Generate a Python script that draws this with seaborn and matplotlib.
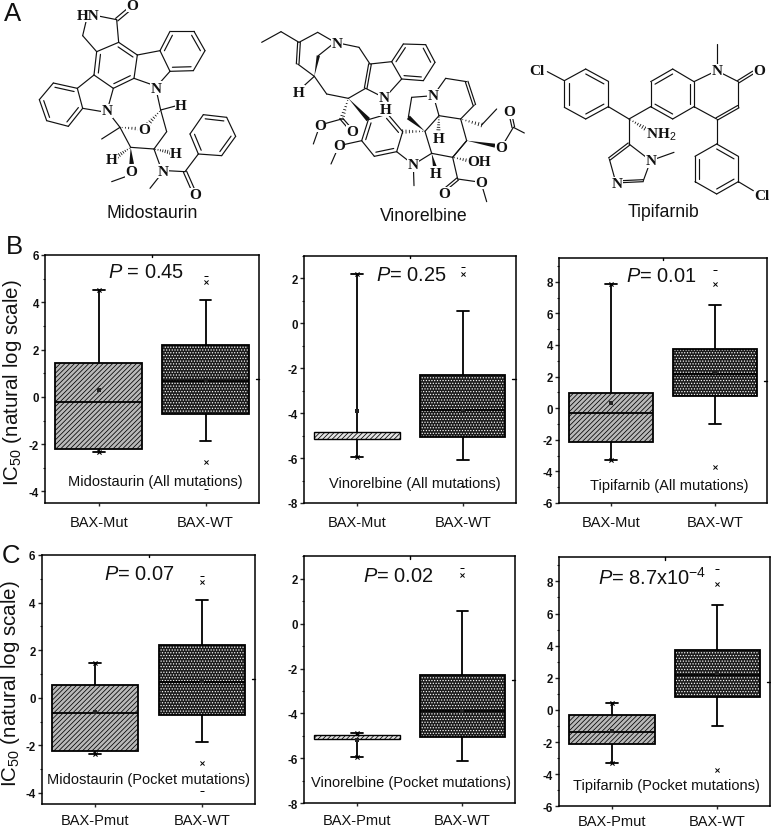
import numpy as np
import pandas as pd
import matplotlib
matplotlib.use("Agg")
import matplotlib.pyplot as plt
from matplotlib.ticker import MultipleLocator
import seaborn as sns

# Box data: whisker low, q1, median, q3, whisker high
groups_b = ["BAX-Mut", "BAX-WT"]
groups_c = ["BAX-Pmut", "BAX-WT"]

mido_mut = [-2.35, -2.2, -0.23, 1.45, 4.5]
mido_pmut = [-2.35, -2.22, -0.65, 0.52, 1.45]
mido_wt = [-1.85, -0.72, 0.68, 2.2, 4.1]
vino_mut = [-5.95, -5.15, -5.0, -4.85, 2.2]
vino_pmut = [-5.95, -5.15, -5.05, -4.95, -4.85]
vino_wt = [-6.1, -5.05, -3.87, -2.3, 0.55]
tipi_mut = [-3.3, -2.15, -0.33, 0.93, 7.85]
tipi_pmut = [-3.3, -2.15, -1.4, -0.33, 0.4]
tipi_wt = [-1.0, 0.78, 2.15, 3.75, 6.55]

# means, x outliers and dash outliers per group
mido_mut_mean, mido_pmut_mean, mido_wt_mean = 0.3, -0.6, 0.7
vino_mut_mean, vino_pmut_mean, vino_wt_mean = -3.9, -5.2, -3.9
tipi_mut_mean, tipi_pmut_mean, tipi_wt_mean = 0.3, -1.3, 2.3

mido_wt_x = [4.85, -2.75]
mido_wt_dash = [5.1, -3.9]
vino_wt_x = [2.18]
vino_wt_dash = [2.5, -7.25]
tipi_wt_x = [7.85, -3.72]
tipi_wt_dash = [8.75]

p_labels = [" = 0.45", "= 0.25", "= 0.01", "= 0.07", "= 0.02", "= 8.7x10$^{-4}$"]
inset_labels = ["Midostaurin (All mutations)", "Vinorelbine (All mutations)", "Tipifarnib (All mutations)",
                "Midostaurin (Pocket mutations)", "Vinorelbine (Pocket mutations)", "Tipifarnib (Pocket mutations)"]

W, H = 771, 828

sns.set_theme(style="ticks", rc={"hatch.linewidth": 0.55})
plt.rcParams["font.family"] = ["Liberation Sans", "DejaVu Sans"]
plt.rcParams["axes.unicode_minus"] = False
plt.rcParams["mathtext.fontset"] = "custom"
plt.rcParams["mathtext.rm"] = "Liberation Sans"
plt.rcParams["mathtext.it"] = "Liberation Sans:italic"
plt.rcParams["mathtext.bf"] = "Liberation Sans:bold"

fig = plt.figure(figsize=(W / 100, H / 100), dpi=100, facecolor="white")

# overlay in image pixels, for the letters, names and molecules
over = fig.add_axes([0, 0, 1, 1], zorder=5)
over.set_xlim(0, W)
over.set_ylim(H, 0)
over.axis("off")
over.patch.set_alpha(0)


def panel(left, top, right, bottom, names, vals_a, vals_b, ylim, major, mean_a, mean_b, xs, dashes, xpad=6):
    ax = fig.add_axes([left / W, 1 - bottom / H, (right - left) / W, (bottom - top) / H])
    df = pd.DataFrame({
        "group": [names[0]] * 5 + [names[1]] * 5,
        "ic50": list(vals_a) + list(vals_b),
    })
    sns.boxplot(data=df, x="group", y="ic50", hue="group", order=names, palette=["#b9b9b9", "#1c1c1c"],
                saturation=1, width=0.81, whis=(0, 100), linewidth=1.3, linecolor="black",
                fliersize=0, capwidths=0.11, legend=False, ax=ax)
    for patch, hatch, color in zip(ax.patches, ["///////", "......"], ["black", "white"]):
        patch.set_hatch(hatch)
        patch._hatch_color = matplotlib.colors.to_rgba(color)

    # very flat boxes show no median line
    if vals_a[3] - vals_a[1] < 0.4:
        ax.patches[0].set_linewidth(1.0)
        ax.patches[0].set_facecolor("#e4e4e4")
        for ln in ax.lines:
            yd = ln.get_ydata()
            xd = ln.get_xdata()
            if len(yd) == 2 and yd[0] == yd[1] == vals_a[2] and abs(xd[1] - xd[0]) > 0.5:
                ln.set_visible(False)

    sns.scatterplot(x=[0, 1], y=[mean_a, mean_b], marker="s", s=5, color="#222222", linewidth=0, ax=ax, zorder=6)
    # extremes of the left group sit on its whisker caps
    sns.scatterplot(x=[0, 0], y=[vals_a[0], vals_a[-1]], marker="x", s=9, color="black", linewidth=0.8, ax=ax, zorder=6)
    sns.scatterplot(x=[1] * len(xs), y=xs, marker="x", s=9, color="black", linewidth=0.7, ax=ax, zorder=6)
    sns.scatterplot(x=[1] * len(dashes), y=dashes, marker="_", s=9, color="black", linewidth=0.7, ax=ax, zorder=6)

    ax.set_xlim(-0.5, 1.5)
    ax.set_ylim(*ylim)
    ax.set_xlabel("")
    ax.set_ylabel("")
    ax.yaxis.set_major_locator(MultipleLocator(major))
    ax.yaxis.set_minor_locator(MultipleLocator(major / 2))
    ax.tick_params(axis="y", which="major", length=2.6, width=1, labelsize=8.3, pad=2, labelcolor="#111111")
    ax.tick_params(axis="y", which="minor", length=1.5, width=0.8)
    ax.tick_params(axis="x", length=2.5, width=1, labelsize=10.5, pad=xpad, labelcolor="#111111")
    for lab in ax.get_yticklabels():
        lab.set_fontweight("bold")
    for s in ax.spines.values():
        s.set_visible(True)
        s.set_linewidth(1.1)
        s.set_color("black")
    # little inward ticks in the middle of top and right frame
    ax.plot([0.5, 0.5], [1, 0.99], color="black", lw=1, transform=ax.transAxes, clip_on=False)
    ax.plot([1, 0.985], [0.5, 0.5], color="black", lw=1, transform=ax.transAxes, clip_on=False)
    return ax


ax1 = panel(45.3, 256, 259, 504.3, groups_b, mido_mut, mido_wt, (-4.5, 6), 2, mido_mut_mean, mido_wt_mean, mido_wt_x, mido_wt_dash)
ax2 = panel(304.3, 256.7, 515.5, 504, groups_b, vino_mut, vino_wt, (-8, 3), 2, vino_mut_mean, vino_wt_mean, vino_wt_x, vino_wt_dash)
ax3 = panel(559.3, 259, 766.7, 504, groups_b, tipi_mut, tipi_wt, (-6, 9.5), 2, tipi_mut_mean, tipi_wt_mean, tipi_wt_x, tipi_wt_dash)
ax4 = panel(42, 556, 255, 804.7, groups_c, mido_pmut, mido_wt, (-4.45, 6), 2, mido_pmut_mean, mido_wt_mean, mido_wt_x, mido_wt_dash, xpad=4.5)
ax5 = panel(304.3, 557.3, 515, 804.3, groups_c, vino_pmut, vino_wt, (-8, 3), 2, vino_pmut_mean, vino_wt_mean, vino_wt_x, vino_wt_dash, xpad=4.5)
ax6 = panel(559.3, 558.3, 770, 807.3, groups_c, tipi_pmut, tipi_wt, (-6, 9.5), 2, tipi_pmut_mean, tipi_wt_mean, tipi_wt_x, tipi_wt_dash, xpad=3)

for ax, x_lab, y_lab in [(ax1, -0.1, 0.49), (ax4, -0.094, 0.485)]:
    ax.set_ylabel("IC$_{50}$ (natural log scale)", fontsize=14.8, color="#111111")
    ax.yaxis.set_label_coords(x_lab, y_lab)

p_x = [146, 411, 661, 139.7, 398, 652.5]
p_y = [273, 275.7, 276.7, 575, 576.7, 577.7]
inset_x = [155, 415, 669.7, 148.8, 410.7, 666.3]
inset_y = [482, 484, 485.7, 780, 783, 786]
for i in range(6):
    over.text(p_x[i], p_y[i], "$\\mathit{P}$" + p_labels[i], fontsize=14.4, ha="center", va="center", color="#111111")
    over.text(inset_x[i], inset_y[i], inset_labels[i], fontsize=10.5, ha="center", va="center", color="#111111")

over.text(13, 14, "A", fontsize=18.5, ha="center", va="center", color="#111111")
over.text(14, 247, "B", fontsize=18.5, ha="center", va="center", color="#111111")
over.text(11, 556, "C", fontsize=18.5, ha="center", va="center", color="#111111")


# Molecule drawing helpers, coordinates are in 3x zoomed pixels around an offset
def to_px(p, off):
    return off[0] + p[0] / 3, off[1] + p[1] / 3


def line(a, b, off, lw=0.85):
    a, b = to_px(a, off), to_px(b, off)
    over.plot([a[0], b[0]], [a[1], b[1]], color="#111111", lw=lw, solid_capstyle="round")


def chain(points, off):
    for a, b in zip(points[:-1], points[1:]):
        line(a, b, off)


def double(a, b, off, gap=5):
    a, b = np.array(a, float), np.array(b, float)
    n = np.array([-(b - a)[1], (b - a)[0]])
    n = n / np.hypot(*n) * gap
    line(a + n, b + n, off)
    line(a - n, b - n, off)


def ring(points, inner, off):
    pts = np.array(points, float)
    c = pts.mean(axis=0)
    for i in range(len(pts)):
        line(pts[i], pts[(i + 1) % len(pts)], off)
    for i in inner:
        a = pts[i] + (c - pts[i]) * 0.2
        b = pts[(i + 1) % len(pts)] + (c - pts[(i + 1) % len(pts)]) * 0.2
        line(a, b, off)


def wedge(a, b, off, w=7):
    a, b = np.array(a, float), np.array(b, float)
    n = np.array([-(b - a)[1], (b - a)[0]])
    n = n / np.hypot(*n) * w
    pts = [to_px(a, off), to_px(b + n, off), to_px(b - n, off)]
    over.fill([p[0] for p in pts], [p[1] for p in pts], color="#111111", lw=0)


def hashed(a, b, off, w=7, n_lines=7):
    a, b = np.array(a, float), np.array(b, float)
    n = np.array([-(b - a)[1], (b - a)[0]])
    n = n / np.hypot(*n) * w
    for t in np.linspace(0.1, 1, n_lines):
        m = a + (b - a) * t
        line(m - n * t, m + n * t, off, lw=0.6)


def atom(x, y, s, off):
    px = to_px((x, y), off)
    over.text(px[0], px[1], s, family="Liberation Serif", fontweight="bold", fontsize=11, ha="center", va="center",
              color="#111111", zorder=8, bbox=dict(facecolor="white", edgecolor="none", pad=0.3))


# Midostaurin
off = (0, 0)
chain([(300, 52), (350, 62), (356, 130)], off)
chain([(258, 68), (248, 110), (290, 158)], off)
double((350, 62), (388, 30), off)
ring([(290, 158), (356, 130), (412, 168), (402, 238), (340, 268), (282, 228)], [1, 3, 5], off)
chain([(412, 168), (480, 155)], off)
chain([(510, 217), (470, 262), (402, 238)], off)
ring([(480, 155), (510, 97), (582, 97), (615, 155), (580, 215), (510, 217)], [0, 2, 4], off)
chain([(282, 228), (232, 268)], off)
chain([(248, 328), (320, 340), (340, 268)], off)
ring([(232, 268), (160, 252), (118, 302), (140, 365), (205, 382), (248, 328)], [0, 2, 4], off)
chain([(468, 270), (482, 333), (500, 398), (462, 450), (392, 445), (360, 385), (325, 340)], off)
chain([(482, 333), (530, 320)], off)
chain([(360, 385), (305, 420)], off)
hashed((360, 385), (425, 390), off, w=6)
hashed((482, 333), (445, 375), off, w=6)
wedge((392, 445), (395, 495), off)
chain([(385, 530), (335, 548)], off)
hashed((392, 445), (352, 472), off, w=6)
hashed((462, 450), (510, 460), off, w=6)
chain([(462, 450), (482, 505)], off)
chain([(480, 530), (450, 568)], off)
chain([(500, 515), (555, 518), (595, 465)], off)
double((555, 518), (578, 570), off)
ring([(595, 465), (570, 405), (610, 347), (680, 355), (707, 412), (665, 470)], [0, 2, 4], off)
for x, y, s in [(263, 48, "HN"), (398, 18, "O"), (468, 268, "N"), (320, 335, "N"), (543, 320, "H"),
                (432, 392, "O"), (395, 517, "O"), (335, 482, "H"), (528, 462, "H"), (488, 517, "N"), (585, 587, "O")]:
    atom(x, y, s, off)
over.text(152, 214, "Midostaurin", fontsize=12.7, ha="center", va="center", color="#111111")

# Vinorelbine
off = (255, 0)
chain([(20, 130), (78, 98), (132, 130), (188, 100), (240, 130), (312, 145), (345, 195)], off)
double((132, 130), (128, 195), off, gap=4)
chain([(128, 195), (178, 232), (215, 285), (280, 298), (332, 268), (385, 295)], off)
wedge((178, 232), (190, 170), off, w=5)
chain([(190, 170), (240, 130)], off)
chain([(178, 232), (145, 262)], off)
double((345, 195), (332, 268), off, gap=4)
chain([(345, 195), (410, 188)], off)
chain([(440, 240), (395, 290)], off)
ring([(410, 188), (445, 135), (512, 137), (540, 190), (505, 245), (440, 240)], [0, 2, 4], off)
hashed((280, 298), (260, 360), off, w=7)
double((260, 360), (293, 398), off, gap=4)
chain([(260, 360), (195, 378), (175, 435)], off)
wedge((280, 298), (340, 362), off, w=7)
ring([(340, 362), (398, 345), (443, 398), (425, 458), (358, 472), (320, 425)], [1, 3, 5], off)
chain([(320, 425), (252, 440), (228, 495)], off)
chain([(425, 458), (475, 497), (477, 560)], off)
chain([(475, 497), (530, 463), (593, 475), (635, 425)], off)
hashed((510, 397), (443, 398), off, w=6)
chain([(510, 397), (530, 463)], off)
wedge((530, 463), (540, 505), off, w=6)
hashed((593, 475), (650, 487), off, w=6)
chain([(593, 475), (608, 540)], off)
double((608, 540), (572, 570), off, gap=4)
chain([(608, 540), (678, 550), (695, 608)], off)
wedge((510, 397), (460, 355), off, w=7)
chain([(460, 355), (470, 295), (535, 290)], off)
chain([(510, 397), (552, 350), (535, 290)], off)
hashed((552, 350), (550, 400), off, w=6)
chain([(552, 350), (617, 360), (635, 425), (593, 475)], off)
chain([(617, 360), (658, 318)], off)
double((658, 318), (635, 248), off, gap=4)
chain([(635, 248), (572, 238), (535, 290)], off)
hashed((617, 360), (680, 378), off, w=6)
chain([(680, 378), (725, 330)], off)
wedge((635, 425), (720, 440), off, w=6)
chain([(738, 447), (775, 385), (808, 402)], off)
double((775, 385), (765, 340), off, gap=4)
for x, y, s in [(245, 132, "N"), (132, 280, "H"), (388, 295, "N"), (392, 330, "H"), (293, 398, "O"), (195, 378, "O"),
                (252, 440, "O"), (475, 497, "N"), (543, 522, "H"), (672, 488, "OH"), (568, 585, "O"), (678, 550, "O"),
                (535, 290, "N"), (552, 418, "H"), (738, 447, "O"), (762, 338, "O")]:
    atom(x, y, s, off)
over.text(424, 216.7, "Vinorelbine", fontsize=12.7, ha="center", va="center", color="#111111")

# Tipifarnib
off = (520, 40)
chain([(82, 98), (133, 125)], off)
ring([(133, 125), (197, 90), (265, 127), (265, 203), (197, 240), (133, 205)], [1, 3, 5], off)
chain([(265, 203), (327, 240), (392, 203)], off)
hashed((327, 240), (375, 268), off, w=6)
chain([(327, 240), (327, 315)], off)
ring([(392, 203), (392, 128), (458, 90), (522, 128), (522, 203), (458, 240)], [1, 3, 5], off)
chain([(522, 128), (590, 95), (590, 15)], off)
chain([(590, 95), (655, 128), (655, 203)], off)
double((655, 128), (700, 100), off, gap=4)
chain([(590, 240), (522, 203)], off)
double((655, 203), (590, 240), off, gap=4)
chain([(590, 240), (590, 315)], off)
ring([(590, 315), (655, 352), (655, 428), (590, 465), (525, 428), (525, 352)], [0, 2, 4], off)
chain([(655, 428), (700, 455)], off)
double((327, 315), (268, 360), off, gap=4)
chain([(268, 360), (288, 432)], off)
double((305, 428), (370, 425), off, gap=3)
chain([(370, 425), (392, 365), (327, 315)], off)
chain([(392, 365), (462, 340)], off)
for x, y, s in [(50, 95, "Cl"), (590, 95, "N"), (717, 95, "O"), (425, 285, "NH$_2$"), (725, 470, "Cl"), (290, 435, "N"), (392, 365, "N")]:
    atom(x, y, s, off)
over.text(664, 213, "Tipifarnib", fontsize=12.7, ha="center", va="center", color="#111111")

fig.savefig("out.png", dpi=100)
